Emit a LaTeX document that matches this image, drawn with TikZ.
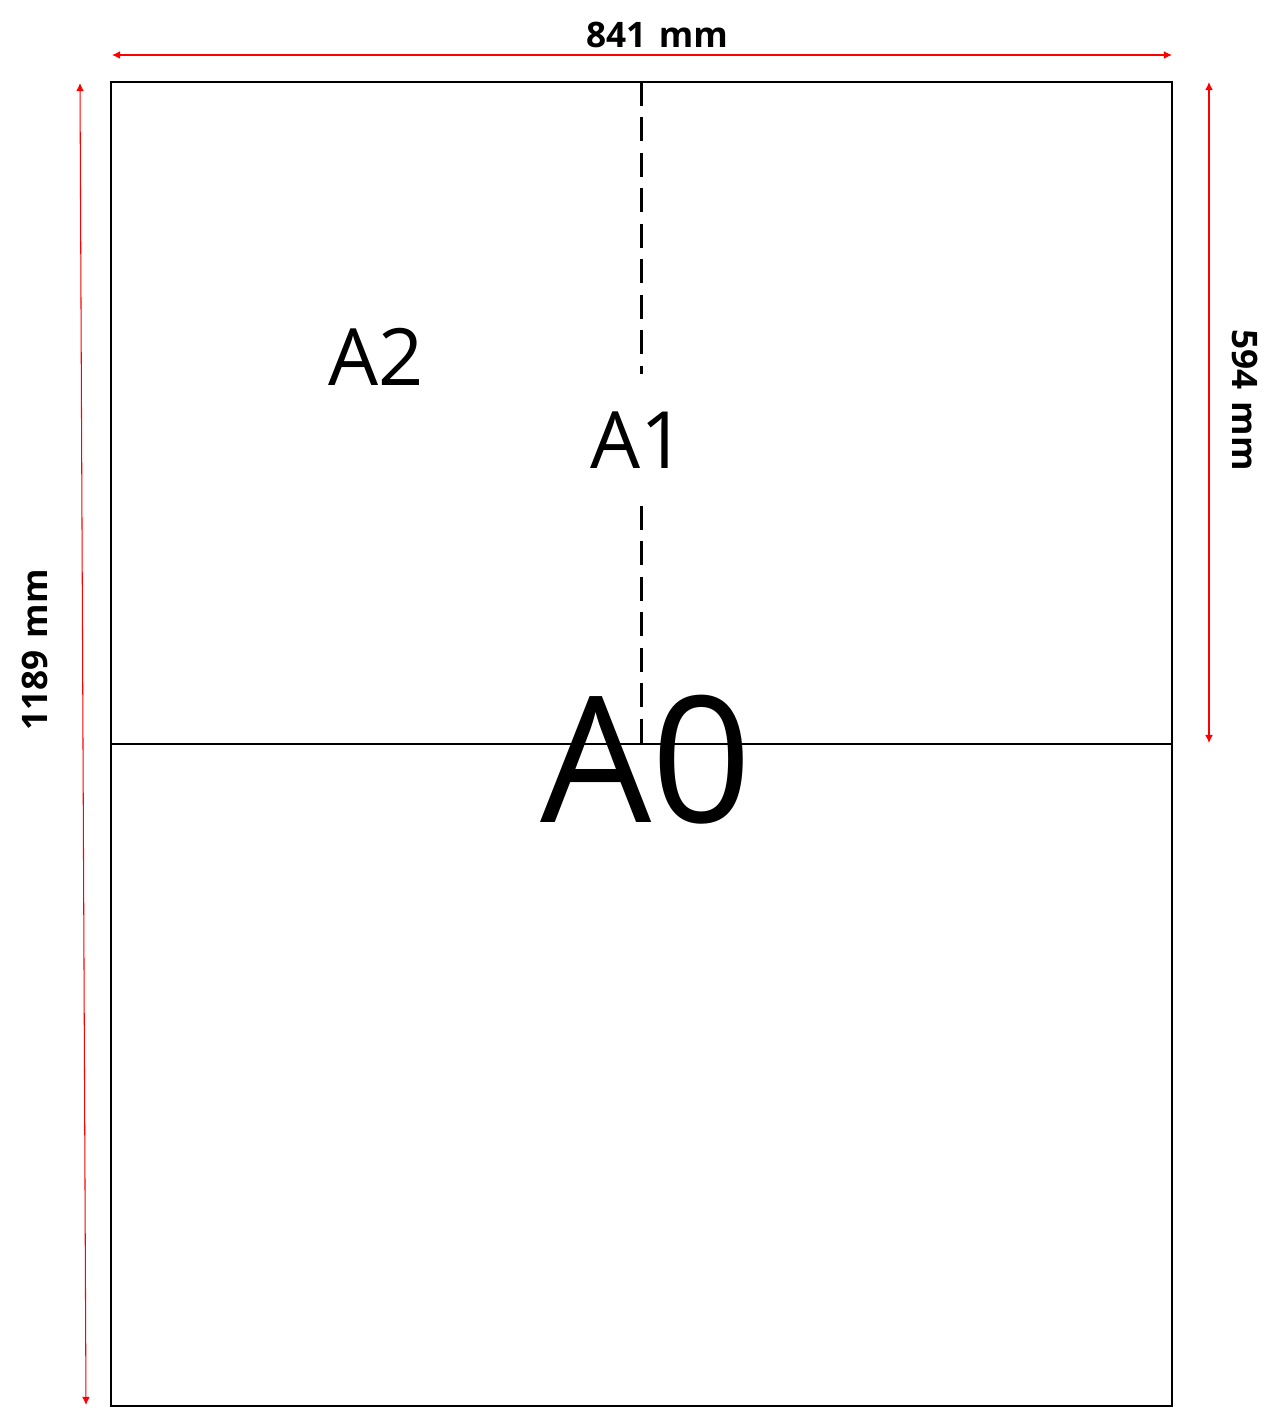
\documentclass[tikz,border=0pt]{standalone}
\usepackage{fontspec}
\setmainfont{Open Sans}
\usetikzlibrary{arrows.meta}

\begin{document}
\begin{tikzpicture}[x=0.02cm, y=-0.02cm, >={Latex[length=4.6pt,width=4.4pt]}]
    \useasboundingbox (0,0) rectangle (1280,1415);

    % Sheet A0 and its first fold
    \coordinate (nw) at (111,82);
    \coordinate (se) at (1172,1406);
    \draw[line width=1.1pt] (nw) rectangle (se);
    \coordinate (midW) at (111,744);
    \coordinate (midE) at (1172,744);
    \draw[line width=1pt] (midW) -- (midE);

    % Sheet names
    \node (a2) at (376,357) {\fontsize{45}{45}\selectfont A2};
    \node[inner ysep=0.74cm] (a1) at (638,440) {\fontsize{45}{45}\selectfont A1};
    \node (a0) at (646,760) {\fontsize{100}{100}\selectfont A0};

    % Second fold, broken round the A1 label
    \coordinate (topC) at (641,82);
    \coordinate (botC) at (641,744);
    \draw[line width=1.7pt, dash pattern=on 13.6pt off 6.6pt] (topC) -- (topC |- a1.north);
    \draw[line width=1.7pt, dash pattern=on 13.6pt off 6.6pt] (botC |- a1.south) -- (botC);

    % Dimensions
    \coordinate (wL) at (112,55);
    \coordinate (wR) at (1172,55);
    \draw[<->, red, line width=0.6pt] (wL) -- (wR);
    \node (w) at (657,35) {\fontsize{20}{20}\selectfont\bfseries 841\hspace{0.1em} mm};

    \coordinate (hT) at (80,83);
    \coordinate (hB) at (86,1405);
    \draw[<->, red, line width=0.6pt] (hT) -- (hB);
    \node[rotate=90] (h) at (35,650) {\fontsize{20}{20}\selectfont\bfseries 1189\hspace{0.1em} mm};

    \coordinate (rT) at (1209,82);
    \coordinate (rB) at (1209,743);
    \draw[<->, red, line width=0.6pt] (rT) -- (rB);
    \node[rotate=-90] (r) at (1245,400) {\fontsize{20}{20}\selectfont\bfseries 594\hspace{0.1em} mm};
\end{tikzpicture}
\end{document}
